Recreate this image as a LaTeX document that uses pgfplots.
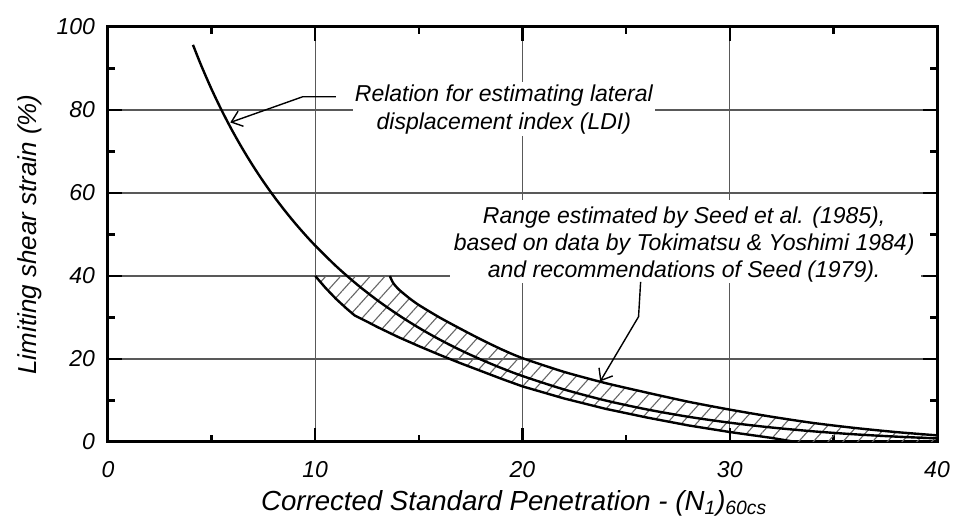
\documentclass[border=0pt]{standalone}
\usepackage{fontspec}
\setmainfont{Liberation Sans}
\usepackage{pgfplots}
\pgfplotsset{compat=1.18}
\usetikzlibrary{patterns.meta,arrows.meta}

\begin{document}
\begin{tikzpicture}
\begin{axis}[
  scale only axis, width=414.5pt, height=207.5pt,
  xmin=0,xmax=40,ymin=0,ymax=100,
  xtick={0,10,20,30,40}, ytick={0,20,40,60,80,100},
  minor xtick={5,15,25,35}, minor ytick={10,30,50,70,90},
  tick align=inside,
  major tick length=7pt, minor tick length=3.5pt,
  every tick/.style={black, line width=1.2pt},
  axis line style={line width=1.5pt},
  grid=major,
  major grid style={black!65, line width=0.6pt},
  /pgf/number format/assume math mode=true,
  ticklabel style={font=\fontsize{11.5}{13}\selectfont\itshape},
  xticklabel style={yshift=-6pt},
  yticklabel style={xshift=-3pt},
  xlabel={Corrected Standard Penetration - (N\textsubscript{1})\textsubscript{60cs}},
  ylabel={Limiting shear strain (\%)},
  label style={font=\fontsize{13}{15}\selectfont\itshape},
  xlabel style={at={(axis description cs:0.49,-0.147)}, anchor=center, font=\fontsize{13.8}{15}\selectfont\itshape},
  ylabel style={at={(axis description cs:-0.094,0.5)}, anchor=center},
]
% white box behind lower annotation
\fill[white] (axis cs:16.5,38.4) rectangle (axis cs:39.25,58.2);

% hatched range (Seed et al. 1985)
\addplot[draw=none, pattern={Lines[angle=48,distance=5.5pt,line width=0.55pt]}, pattern color=black!60]
 coordinates {(10,40) (13.6,40) (13.75,38.4) (14.0,36.9) (14.5,34.8) (15,33.0) (16,30.0) (17,27.3) (18,24.7) (19,22.3) (20,20.2) (22,16.9) (24,14.2) (26,11.9) (28,9.7) (30,7.8) (32,6.1) (34,4.6) (36,3.4) (38,2.4) (40,1.6)
 (40,0) (33.2,0) (32,1.0) (31,1.7) (30,2.4) (28,4.0) (26,5.9) (24,8.0) (22,10.5) (20,13.4) (19,15.2) (18,17.1) (17,19.0) (16,21.0) (15,23.1) (14,25.3) (13,27.7) (12.5,29.0) (11.9,30.5) (11.5,32.2) (11,34.5) (10.5,37.1) (10,40)} -- cycle;

% upper bound
\addplot[black, line width=1.2pt, smooth, tension=0.4] coordinates {(13.6,40) (13.75,38.4) (14.0,36.9) (14.5,34.8) (15,33.0) (16,30.0) (17,27.3) (18,24.7) (19,22.3) (20,20.2) (22,16.9) (24,14.2) (26,11.9) (28,9.7) (30,7.8) (32,6.1) (34,4.6) (36,3.4) (38,2.4) (40,1.6)};
% lower bound
\addplot[black, line width=1.2pt] coordinates {(10,40) (10.5,37.1) (11,34.5) (11.5,32.2) (11.9,30.5) (12.5,29.0) (13,27.7) (14,25.3) (15,23.1) (16,21.0) (17,19.0) (18,17.1) (19,15.2) (20,13.4) (22,10.5) (24,8.0) (26,5.9) (28,4.0) (30,2.4) (31,1.7) (32,1.0) (33.2,0)};
% LDI relation
\addplot[black, line width=1.2pt, smooth] coordinates {(4.1,95.70) (4.5,90.70) (5,84.97) (5.5,79.76) (6,74.98) (6.5,70.58) (7,66.51) (7.5,62.73) (8,59.22) (8.5,55.95) (9,52.88) (9.5,50.01) (10,47.32) (11,42.40) (12,38.03) (13,34.14) (14,30.65) (15,27.51) (16,24.69) (17,22.15) (18,19.86) (19,17.78) (20,15.90) (22,12.67) (24,10.01) (26,7.85) (28,6.08) (30,4.65) (32,3.50) (34,2.58) (36,1.86) (38,1.30) (40,0.87)};

% leaders
\draw[line width=0.7pt, -{Straight Barb[length=5pt,width=8pt]}] (axis cs:11.0,83.2) -- (axis cs:9.4,83.2) -- (axis cs:5.9,77.0);
\draw[line width=0.7pt, -{Straight Barb[length=5pt,width=8pt]}] (axis cs:25.7,38.6) -- (axis cs:25.6,30.2) -- (axis cs:23.75,14.6);

% annotations
\node[fill=white, inner xsep=1pt, inner ysep=1pt, align=center, font=\fontsize{11.5}{14}\selectfont\itshape] at (axis cs:19.1,80.2) {Relation for estimating lateral\\displacement index (LDI)};
\node[align=center, font=\fontsize{11.5}{13.5}\selectfont\itshape] at (axis cs:27.8,47.6) {Range estimated by Seed et al. (1985),\\based on data by Tokimatsu \& Yoshimi 1984)\\and recommendations of Seed (1979).};
\end{axis}
\pgfresetboundingbox
\path ([shift={(-54pt,-40.5pt)}]current axis.south west) rectangle ([shift={(13pt,13.5pt)}]current axis.north east);
\end{tikzpicture}
\end{document}
